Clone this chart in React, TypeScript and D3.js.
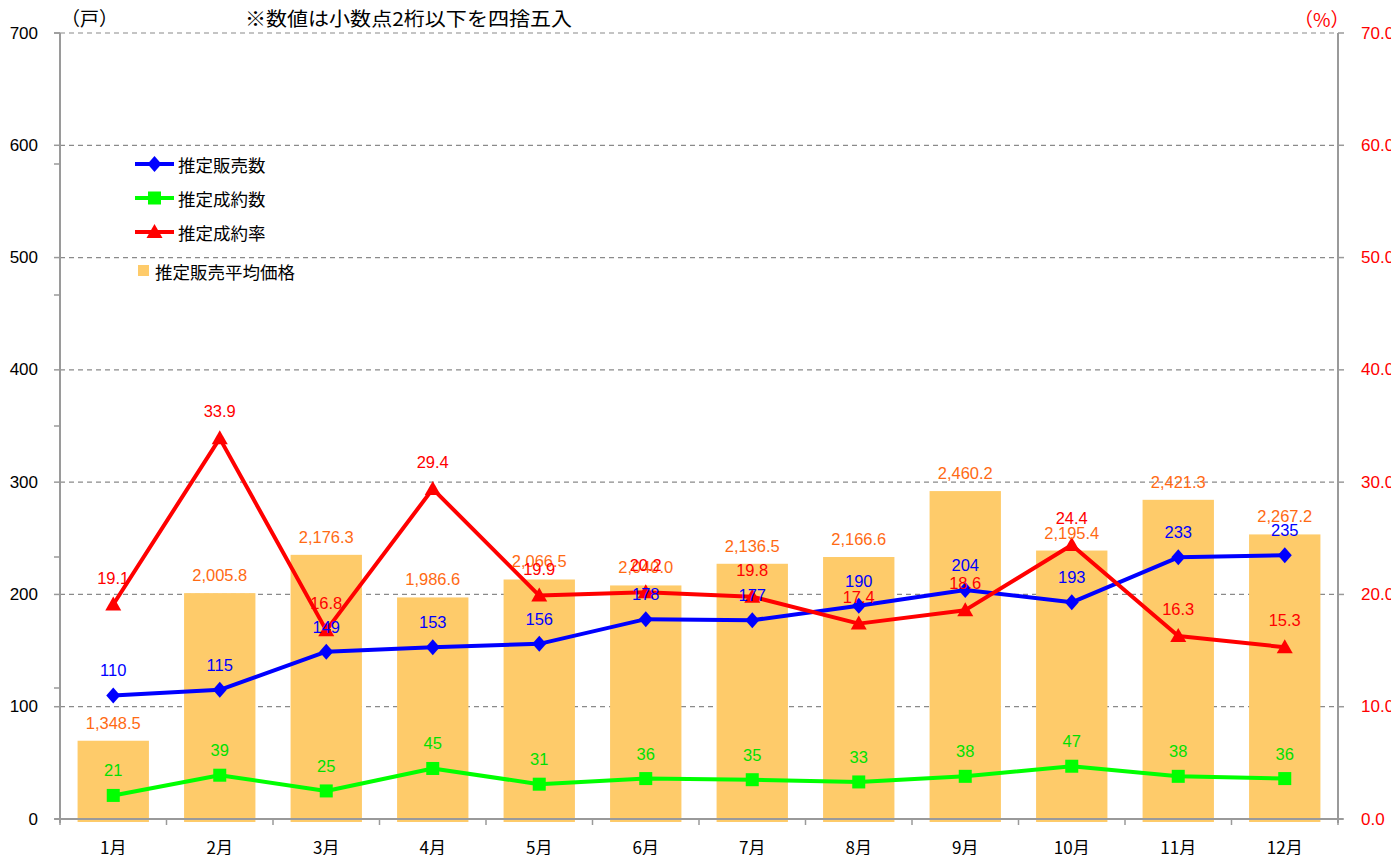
import React from "react";
import * as d3 from "d3";

const months = ["1月", "2月", "3月", "4月", "5月", "6月", "7月", "8月", "9月", "10月", "11月", "12月"];
const salesCount = [110, 115, 149, 153, 156, 178, 177, 190, 204, 193, 233, 235];
const contractCount = [21, 39, 25, 45, 31, 36, 35, 33, 38, 47, 38, 36];
const contractRate = [19.1, 33.9, 16.8, 29.4, 19.9, 20.2, 19.8, 17.4, 18.6, 24.4, 16.3, 15.3];
const avgPrice = [1348.5, 2005.8, 2176.3, 1986.6, 2066.5, 2040.0, 2136.5, 2166.6, 2460.2, 2195.4, 2421.3, 2267.2];
const leftTicks = [0, 100, 200, 300, 400, 500, 600, 700];
const rightTicks = [0, 10, 20, 30, 40, 50, 60, 70];
const legendItems = ["推定販売数", "推定成約数", "推定成約率"];

const W = 1391;
const H = 855;
const L = 60;
const R = 1338;
const T = 33;
const B = 819;

const NUM_FONT = "'Liberation Sans', Arial, sans-serif";
const JP_FONT = "'Noto Sans CJK JP', sans-serif";

const BLUE = "#0000FF";
const GREEN = "#00FF00";
const RED = "#FF0000";
const BAR = "#FECB6A";
const ORANGE = "#FF6A13";
const AXIS = "#9A9A9A";

function Diamond({ x, y }: { x: number; y: number }) {
  return <path d={`M${x},${y - 8}L${x + 7},${y}L${x},${y + 8}L${x - 7},${y}Z`} fill={BLUE} />;
}
function Square({ x, y }: { x: number; y: number }) {
  return <rect x={x - 6.5} y={y - 6.5} width={13} height={13} fill={GREEN} />;
}
function Triangle({ x, y }: { x: number; y: number }) {
  return <path d={`M${x},${y - 8}L${x + 8},${y + 6}L${x - 8},${y + 6}Z`} fill={RED} />;
}

export default function App() {
  const x = d3.scaleBand<string>().domain(months).range([L, R]).paddingInner(0).paddingOuter(0);
  const bw = x.bandwidth();
  const cx = (m: string) => (x(m) as number) + bw / 2;
  const yL = d3.scaleLinear().domain([0, 700]).range([B, T]);
  const yR = d3.scaleLinear().domain([0, 70]).range([B, T]);
  const yBar = d3.scaleLinear().domain([1000, 4500]).range([B, T]);
  const barW = bw * 0.67;

  const lineL = d3
    .line<number>()
    .x((_, i) => cx(months[i]))
    .y((d) => yL(d));
  const lineR = d3
    .line<number>()
    .x((_, i) => cx(months[i]))
    .y((d) => yR(d));

  const fmt1 = d3.format(",.1f");
  const extraTicks = d3.range(0, 7).map((i) => B - ((B - T) * i) / 6);

  return (
    <svg width={W} height={H} style={{ position: "absolute", left: 0, top: 0, background: "#fff" }}>
      {/* gridlines */}
      {leftTicks.slice(1).map((t) => (
        <line key={"g" + t} x1={L} x2={R} y1={yL(t)} y2={yL(t)} stroke="#8A8A8A" strokeWidth={1.2} strokeDasharray="5,4" />
      ))}

      {/* bars */}
      {avgPrice.map((v, i) => (
        <rect key={"b" + i} x={cx(months[i]) - barW / 2} y={yBar(v)} width={barW} height={B + 3 - yBar(v)} fill={BAR} />
      ))}

      {/* axes */}
      <line x1={L} x2={L} y1={T} y2={B + 4} stroke={AXIS} strokeWidth={2} />
      <line x1={R} x2={R} y1={T} y2={B + 4} stroke={AXIS} strokeWidth={2} />
      <line x1={L - 5} x2={R + 5} y1={B} y2={B} stroke={AXIS} strokeWidth={2} />
      {leftTicks.map((t) => (
        <line key={"lt" + t} x1={L - 6} x2={L} y1={yL(t)} y2={yL(t)} stroke={AXIS} strokeWidth={1.5} />
      ))}
      {extraTicks.map((y, i) => (
        <line key={"et" + i} x1={L - 6} x2={L} y1={y} y2={y} stroke={AXIS} strokeWidth={1.5} />
      ))}
      {rightTicks.map((t) => (
        <line key={"rt" + t} x1={R} x2={R + 6} y1={yR(t)} y2={yR(t)} stroke={AXIS} strokeWidth={1.5} />
      ))}
      {months.map((m, i) => (
        <line key={"xt" + i} x1={x(m) as number} x2={x(m) as number} y1={B} y2={B + 6} stroke={AXIS} strokeWidth={1.5} />
      ))}
      <line x1={R} x2={R} y1={B} y2={B + 6} stroke={AXIS} strokeWidth={1.5} />

      {/* axis labels */}
      {leftTicks.map((t) => (
        <text key={"ll" + t} x={38} y={yL(t)} textAnchor="end" dominantBaseline="central" fontFamily={NUM_FONT} fontSize={17} fill="#000">
          {t}
        </text>
      ))}
      {rightTicks.map((t) => (
        <text key={"rl" + t} x={1361} y={yR(t)} textAnchor="start" dominantBaseline="central" fontFamily={NUM_FONT} fontSize={17} fill={RED}>
          {t.toFixed(1)}
        </text>
      ))}
      {months.map((m) => (
        <text key={"xl" + m} x={cx(m)} y={846} textAnchor="middle" dominantBaseline="central" fontFamily={JP_FONT} fontSize={17} fill="#000">
          {m}
        </text>
      ))}

      {/* titles */}
      <text x={61} y={17} dominantBaseline="central" fontFamily={JP_FONT} fontSize={19} fill="#000">（戸）</text>
      <text x={1294} y={18} dominantBaseline="central" fontFamily={JP_FONT} fontSize={19} fill={RED}>（%）</text>
      <text x={245} y={17} dominantBaseline="central" fontFamily={JP_FONT} fontSize={19} textLength={327} lengthAdjust="spacingAndGlyphs" fill="#000">
        ※数値は小数点2桁以下を四捨五入
      </text>

      {/* lines */}
      <path d={lineL(salesCount) || ""} fill="none" stroke={BLUE} strokeWidth={4} strokeLinejoin="round" />
      <path d={lineL(contractCount) || ""} fill="none" stroke={GREEN} strokeWidth={4} strokeLinejoin="round" />
      <path d={lineR(contractRate) || ""} fill="none" stroke={RED} strokeWidth={4} strokeLinejoin="round" />
      {salesCount.map((v, i) => (
        <Diamond key={"d" + i} x={cx(months[i])} y={yL(v)} />
      ))}
      {contractCount.map((v, i) => (
        <Square key={"s" + i} x={cx(months[i])} y={yL(v)} />
      ))}
      {contractRate.map((v, i) => (
        <Triangle key={"t" + i} x={cx(months[i])} y={yR(v)} />
      ))}

      {/* data labels */}
      {avgPrice.map((v, i) => (
        <text key={"bl" + i} x={cx(months[i])} y={yBar(v) - 18} textAnchor="middle" dominantBaseline="central" fontFamily={NUM_FONT} fontSize={16.5} fill={ORANGE}>
          {fmt1(v)}
        </text>
      ))}
      {salesCount.map((v, i) => (
        <text key={"sl" + i} x={cx(months[i])} y={yL(v) - 25} textAnchor="middle" dominantBaseline="central" fontFamily={NUM_FONT} fontSize={16.5} fill={BLUE}>
          {v}
        </text>
      ))}
      {contractCount.map((v, i) => (
        <text key={"cl" + i} x={cx(months[i])} y={yL(v) - 25} textAnchor="middle" dominantBaseline="central" fontFamily={NUM_FONT} fontSize={16.5} fill="#00E000">
          {v}
        </text>
      ))}
      {contractRate.map((v, i) => (
        <text key={"rl2" + i} x={cx(months[i])} y={yR(v) - 27} textAnchor="middle" dominantBaseline="central" fontFamily={NUM_FONT} fontSize={16.5} fill={RED}>
          {v.toFixed(1)}
        </text>
      ))}

      {/* legend */}
      {legendItems.map((name, i) => {
        const ly = 164 + i * 34;
        const col = [BLUE, GREEN, RED][i];
        return (
          <g key={"lg" + i}>
            <line x1={135} x2={174} y1={ly} y2={ly} stroke={col} strokeWidth={4} />
            {i === 0 && <Diamond x={154.5} y={ly} />}
            {i === 1 && <Square x={154.5} y={ly} />}
            {i === 2 && <Triangle x={154.5} y={ly} />}
            <text x={178} y={ly} dominantBaseline="central" fontFamily={JP_FONT} fontSize={17.5} fill="#000">
              {name}
            </text>
          </g>
        );
      })}
      <rect x={138} y={265} width={11} height={11} fill={BAR} />
      <text x={155} y={271} dominantBaseline="central" fontFamily={JP_FONT} fontSize={17.5} fill="#000">
        推定販売平均価格
      </text>
    </svg>
  );
}
